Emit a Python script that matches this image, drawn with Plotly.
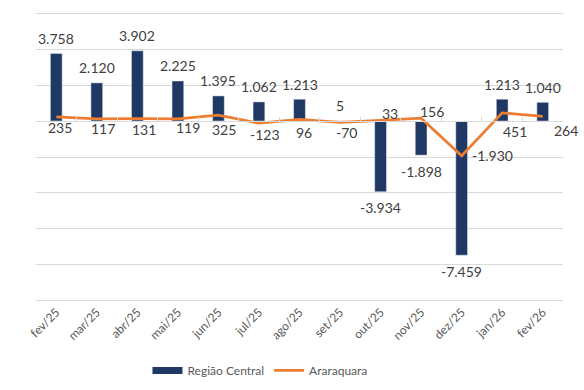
import plotly.graph_objects as go

months = ["fev/25", "mar/25", "abr/25", "mai/25", "jun/25", "jul/25", "ago/25",
          "set/25", "out/25", "nov/25", "dez/25", "jan/26", "fev/26"]
regiao_central = [3758, 2120, 3902, 2225, 1395, 1062, 1213, 5, -3934, -1898, -7459, 1213, 1040]
araraquara = [235, 117, 131, 119, 325, -123, 96, -70, 33, 156, -1930, 451, 264]

# label placement (pixel offsets) for the line labels
line_lbl_dx = [4, 6, 7, 10, 6, 6, 4, 6, 9, 11, 31, 13, 23]
line_lbl_dy = [-11, -10, -11, -9, -14, -11, -13, -10, 7, 7, 0, -19, -14]

NAVY = "#203864"
ORANGE = "#ED7D31"
FONT = "Lato"


def fmt(v):
    return f"{v:,}".replace(",", ".")


fig = go.Figure()
fig.add_trace(go.Bar(x=months, y=regiao_central, marker_color=NAVY, width=0.29,
                     showlegend=False, name="Região Central"))
fig.add_trace(go.Scatter(x=months, y=araraquara, mode="lines",
                         line=dict(color=ORANGE, width=2.75), showlegend=False,
                         name="Araraquara"))
# legend proxies
fig.add_trace(go.Scatter(x=[None], y=[None], mode="lines", line=dict(color=NAVY, width=7),
                         name="Região Central"))
fig.add_trace(go.Scatter(x=[None], y=[None], mode="lines", line=dict(color=ORANGE, width=2.75),
                         name="Araraquara"))
# helper trace for the zero-crossing category axis
fig.add_trace(go.Scatter(x=months, y=[None] * len(months), xaxis="x2", showlegend=False,
                         hoverinfo="skip"))

ann = []
for m, v in zip(months, regiao_central):
    ann.append(dict(x=m, y=v, text=fmt(v), showarrow=False, xref="x", yref="y",
                    yshift=15 if v >= 0 else -16,
                    font=dict(family=FONT, size=14, color="#404040")))
for m, v, dx, dy in zip(months, araraquara, line_lbl_dx, line_lbl_dy):
    ann.append(dict(x=m, y=v, text=fmt(v), showarrow=False, xref="x", yref="y",
                    xshift=dx, yshift=dy,
                    font=dict(family=FONT, size=14, color="#404040")))

fig.update_layout(
    width=584, height=390,
    margin=dict(l=36, r=21, t=12, b=88, autoexpand=False),
    paper_bgcolor="white", plot_bgcolor="white",
    font=dict(family=FONT, color="#595959"),
    bargap=0.7,
    xaxis=dict(type="category", tickangle=-45, showgrid=False, zeroline=False,
               showline=False, ticks="", tickfont=dict(size=12, color="#595959"),
               range=[-0.5, 12.5], automargin=False),
    xaxis2=dict(type="category", overlaying="x", anchor="free", position=0.6253,
                side="bottom", range=[-0.5, 12.5], showticklabels=False,
                showline=True, linecolor="#d9d9d9", linewidth=1,
                ticks="inside", ticklen=4, tickcolor="#d9d9d9", tickson="boundaries",
                showgrid=False, zeroline=False, automargin=False),
    yaxis=dict(range=[-10060, 6060], dtick=2000, tick0=0, showticklabels=False,
               gridcolor="#d9d9d9", gridwidth=1, zeroline=False, showline=False,
               automargin=False),
    legend=dict(orientation="h", x=0.425, xanchor="center", y=-0.236, yanchor="middle",
                font=dict(size=12, color="#595959", family=FONT)),
    annotations=ann,
)

fig.write_html("out.html", post_script="document.body.style.margin='0';",
               config={"displayModeBar": False})
